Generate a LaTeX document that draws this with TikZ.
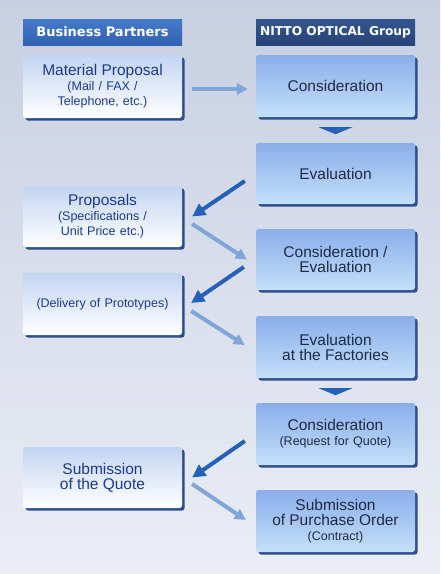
\documentclass[tikz,border=0pt]{standalone}
\usepackage{fontspec}
\setmainfont{Liberation Sans}
\newfontfamily\hdrfont{DejaVu Sans}
\usetikzlibrary{arrows.meta,shadows}
\definecolor{bgtop}{HTML}{C5CDE1}
\definecolor{bgbot}{HTML}{EAEDF5}
\definecolor{rtop}{HTML}{8AAEEA}
\definecolor{rbot}{HTML}{C4E0FA}
\definecolor{ltop}{HTML}{C3D5F2}
\definecolor{lbot}{HTML}{FFFFFF}
\definecolor{shad}{HTML}{2C4E8E}
\definecolor{navy}{HTML}{1B3A8E}
\definecolor{slate}{HTML}{1E2B45}
\definecolor{darkarr}{HTML}{2462B9}
\definecolor{lightarr}{HTML}{80A5D8}
\definecolor{hdrLt}{HTML}{4479C9}
\definecolor{hdrLb}{HTML}{3262B2}
\definecolor{hdrRt}{HTML}{34568E}
\definecolor{hdrRb}{HTML}{27437A}
\newcommand\mainsz{\fontsize{15.5}{15}\selectfont}
\begin{document}
\begin{tikzpicture}[x=1pt,y=-1pt,
  box/.style={rectangle, rounded corners=2.5pt, minimum width=159pt, text width=155pt,
    align=center, inner sep=0pt, font=\fontsize{12.5}{15}\selectfont,
    general shadow={fill=shad, shadow xshift=2.5pt, shadow yshift=-2.5pt}},
  lbox/.style={box, top color=ltop, bottom color=lbot, text=navy},
  rbox/.style={box, top color=rtop, bottom color=rbot, text=slate},
  hdr/.style={rectangle, minimum width=159pt, minimum height=26pt, inner sep=0pt,
    text=white, font=\hdrfont\bfseries},
  darrow/.style={draw=darkarr, line width=4pt, -{Triangle[width=13pt,length=13pt]}},
  larrow/.style={draw=lightarr, line width=4pt, -{Triangle[width=11pt,length=11pt]}},
  downtri/.style={fill=darkarr},
]
% background
\fill[top color=bgtop, bottom color=bgbot] (0,0) rectangle (440,574);
\begin{scope}
  \clip (0,0) rectangle (440,574);
  \foreach \i in {-600,-596,...,440} {
    \draw[white, opacity=0.13, line width=1pt] (\i,574) -- (\i+574,0);
  }
\end{scope}
\useasboundingbox (0,0) rectangle (440,574);

% headers
\node[hdr, top color=hdrLt, bottom color=hdrLb] (hl) at (102.5,32)
  {\fontsize{13}{14}\selectfont Business Partners};
\node[hdr, top color=hdrRt, bottom color=hdrRb] (hr) at (335.5,32)
  {\fontsize{12.2}{14}\selectfont NITTO OPTICAL Group};

% left boxes
\node[lbox, minimum height=63pt] (mp) at (102.5,86.5)
  {{\mainsz Material Proposal}\\(Mail / FAX /\\Telephone, etc.)};
\node[lbox, minimum height=61pt] (pr) at (102.5,216.5)
  {{\mainsz Proposals}\\(Specifications /\\Unit Price etc.)};
\node[lbox, minimum height=62pt] (dp) at (102.5,304)
  {(Delivery of Prototypes)};
\node[lbox, minimum height=61pt] (sq) at (102.5,477.5)
  {{\mainsz Submission\\of the Quote}};

% right boxes
\node[rbox, minimum height=62pt] (c1) at (335.5,86) {{\mainsz Consideration}};
\node[rbox, minimum height=61pt] (ev) at (335.5,173.5) {{\mainsz Evaluation}};
\node[rbox, minimum height=61pt] (ce) at (335.5,259.5) {{\mainsz Consideration /\\Evaluation}};
\node[rbox, minimum height=62pt] (ef) at (335.5,347) {{\mainsz Evaluation\\at the Factories}};
\node[rbox, minimum height=62pt] (cq) at (335.5,434) {{\mainsz Consideration}\\(Request for Quote)};
\node[rbox, minimum height=62pt] (po) at (335.5,521) {{\mainsz Submission\\of Purchase Order}\\(Contract)};

% down triangles
\fill[downtri] (c1.south) ++(-17,10) -- ++(34,0) -- ++(-17,7) -- cycle;
\fill[downtri] (ef.south) ++(-17,10) -- ++(34,0) -- ++(-17,7) -- cycle;

% arrow end points
\coordinate (h1s) at ([xshift=10pt,yshift=-2.5pt]mp.east);
\coordinate (h1e) at ([xshift=-8pt,yshift=-3pt]c1.west);
\coordinate (d1s) at ([xshift=-11pt,yshift=-7.5pt]ev.west);
\coordinate (d1e) at ([xshift=10pt]pr.east);
\coordinate (l1s) at ([xshift=10pt,yshift=-7.5pt]pr.east);
\coordinate (l1e) at ([xshift=-9pt]ce.west);
\coordinate (d2s) at ([xshift=-12pt,yshift=-7.5pt]ce.west);
\coordinate (d2e) at ([xshift=9pt,yshift=1pt]dp.east);
\coordinate (l2s) at ([xshift=9pt,yshift=-7pt]dp.east);
\coordinate (l2e) at ([xshift=-11pt,yshift=2pt]ef.west);
\coordinate (d3s) at ([xshift=-11pt,yshift=-7pt]cq.west);
\coordinate (d3e) at ([xshift=10pt]sq.east);
\coordinate (l3s) at ([xshift=10pt,yshift=-6.5pt]sq.east);
\coordinate (l3e) at ([xshift=-10pt,yshift=1pt]po.west);

\draw[larrow] (h1s) -- (h1e);
\draw[darrow] (d1s) -- (d1e);
\draw[larrow] (l1s) -- (l1e);
\draw[darrow] (d2s) -- (d2e);
\draw[larrow] (l2s) -- (l2e);
\draw[darrow] (d3s) -- (d3e);
\draw[larrow] (l3s) -- (l3e);
\end{tikzpicture}
\end{document}
